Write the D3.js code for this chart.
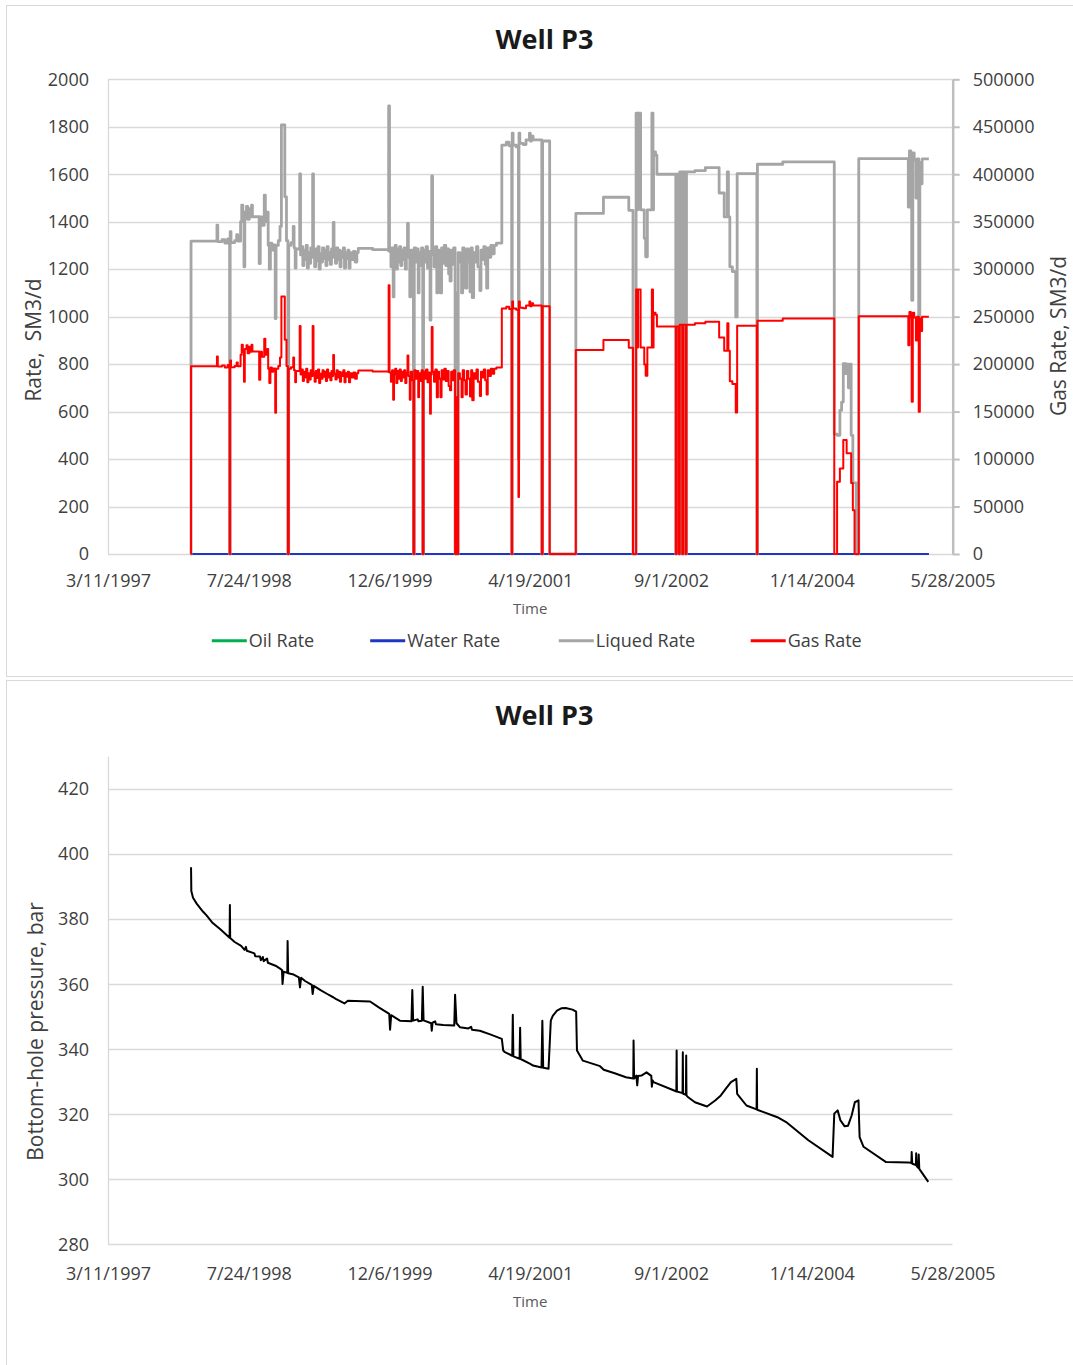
<!DOCTYPE html>
<html>
<head>
<meta charset="utf-8">
<script src="https://cdn.jsdelivr.net/npm/d3@7"></script>
<style>
  body { margin: 0; background: #fff; }
  svg { display: block; font-family: 'Open Sans', sans-serif; }
</style>
</head>
<body>
<svg id="chart" width="1073" height="1365"></svg>
<script>
// days are Excel serial numbers (35500 = 3/11/1997)
const dateTicks = [35500, 36000, 36500, 37000, 37500, 38000, 38500];
const rateTicks = [0, 200, 400, 600, 800, 1000, 1200, 1400, 1600, 1800, 2000];
const gasTicks = [0, 50000, 100000, 150000, 200000, 250000, 300000, 350000, 400000, 450000, 500000];
const pressureTicks = [280, 300, 320, 340, 360, 380, 400, 420];

const seriesNames = ['Oil Rate', 'Water Rate', 'Liqued Rate', 'Gas Rate'];

const oilDays = [35794, 38416];
const oilRate = [0, 0];
const waterDays = [35794, 38416];
const waterRate = [0, 0];

const rateDays = [
  35794, 35795, 35887, 35890, 35905, 35915, 35925, 35932, 35934, 35937,
  35950, 35957, 35961, 35971, 35975, 35979, 35983, 35986, 35992, 35996,
  36002, 36006, 36010, 36013, 36037, 36041, 36047, 36055, 36059, 36065,
  36069, 36073, 36077, 36082, 36087, 36094, 36097, 36105, 36111, 36116,
  36128, 36134, 36139, 36142, 36150, 36158, 36161, 36165, 36168, 36181,
  36184, 36188, 36192, 36196, 36200, 36204, 36208, 36212, 36216, 36220,
  36224, 36227, 36230, 36234, 36238, 36242, 36246, 36250, 36254, 36258,
  36262, 36266, 36270, 36274, 36278, 36282, 36286, 36290, 36294, 36298,
  36300, 36303, 36308, 36312, 36316, 36320, 36324, 36328, 36332, 36336,
  36340, 36344, 36348, 36352, 36356, 36360, 36366, 36372, 36378, 36384,
  36389, 36440, 36496, 36497, 36500, 36505, 36509, 36513, 36516, 36520,
  36524, 36528, 36532, 36536, 36540, 36544, 36548, 36552, 36556, 36560,
  36564, 36567, 36572, 36575, 36580, 36585, 36588, 36593, 36597, 36602,
  36605, 36610, 36614, 36618, 36621, 36626, 36630, 36635, 36640, 36644,
  36647, 36650, 36653, 36658, 36663, 36668, 36672, 36676, 36681, 36685,
  36690, 36695, 36700, 36705, 36710, 36715, 36719, 36724, 36728, 36733,
  36737, 36740, 36744, 36750, 36756, 36760, 36765, 36770, 36775, 36780,
  36786, 36790, 36794, 36799, 36804, 36809, 36814, 36821, 36825, 36830,
  36835, 36840, 36845, 36849, 36854, 36860, 36866, 36872, 36880, 36899,
  36915, 36925, 36934, 36936, 36939, 36950, 36958, 36960, 36963, 36975,
  36985, 36997, 37000, 37005, 37010, 37041, 37044, 37069, 37162, 37260,
  37350, 37365, 37376, 37380, 37383, 37392, 37405, 37410, 37416, 37432,
  37436, 37438, 37445, 37450, 37517, 37520, 37528, 37531, 37540, 37543,
  37552, 37555, 37585, 37622, 37671, 37689, 37700, 37704, 37709, 37718,
  37730, 37735, 37805, 37807, 37897, 38080, 38090, 38100, 38106, 38112,
  38120, 38124, 38130, 38136, 38140, 38146, 38152, 38158, 38167, 38343,
  38347, 38352, 38355, 38359, 38364, 38370, 38374, 38380, 38384, 38388,
  38392, 38416
];

const liquidRate = [
  0, 1318, 1386, 1316, 1324, 1310, 1328, 0, 1358, 1312,
  1320, 1345, 1318, 1400, 1470, 1420, 1210, 1440, 1465, 1410,
  1455, 1420, 1470, 1421, 1224, 1420, 1385, 1512, 1400, 1440,
  1300, 1200, 1310, 1280, 1302, 992, 1300, 1320, 1380, 1808,
  1505, 1320, 0, 1300, 1312, 1380, 1290, 1205, 1285, 1601,
  1260, 1295, 1215, 1280, 1240, 1300, 1205, 1270, 1225, 1290,
  1250, 1601, 1270, 1210, 1285, 1235, 1295, 1200, 1265, 1230,
  1290, 1245, 1280, 1215, 1295, 1240, 1270, 1220, 1285, 1250,
  1397, 1265, 1225, 1290, 1240, 1280, 1210, 1275, 1250, 1290,
  1205, 1270, 1245, 1280, 1205, 1270, 1240, 1275, 1230, 1270,
  1288, 1282, 1278, 1888, 1275, 1210, 1290, 1083, 1260, 1300,
  1200, 1285, 1230, 1295, 1215, 1280, 1240, 1290, 1200, 1270,
  1393, 1250, 1083, 1280, 1220, 0, 1290, 1230, 1285, 1100,
  1270, 1215, 1290, 0, 1280, 1230, 1295, 1205, 1275, 985,
  1260, 1593, 1280, 1210, 1295, 1100, 1280, 1230, 1100, 1290,
  1225, 1300, 1215, 1285, 1180, 1150, 1280, 1220, 1290, 0,
  1100, 0, 1270, 1230, 1100, 1290, 1220, 1120, 1285, 1230,
  1105, 1290, 1080, 1270, 1230, 1295, 1210, 1110, 1280, 1240,
  1295, 1220, 1120, 1290, 1250, 1300, 1265, 1300, 1310, 1723,
  1735, 1720, 0, 1773, 1723, 1715, 400, 1773, 1730, 1725,
  1745, 1773, 1740, 1760, 1745, 0, 1740, 0, 1435, 1503,
  1448, 0, 1857, 1450, 1857, 1450, 1330, 1252, 1450, 1857,
  1450, 1694, 1680, 1600, 0, 1600, 0, 1610, 0, 1610,
  0, 1610, 1615, 1628, 1521, 1420, 1610, 1420, 1210, 1190,
  999, 1603, 0, 1642, 1652, 505, 500, 605, 640, 802,
  760, 800, 700, 800, 500, 300, 300, 0, 1666, 1462,
  1698, 1660, 1069, 1690, 1660, 1500, 1665, 1000, 1650, 1560,
  1665, 1665
];

const gasRate = [
  0, 197700, 208000, 197400, 198600, 196500, 199200, 0, 203700, 196800,
  198000, 201800, 197700, 210000, 220500, 213000, 181500, 216000, 219800, 211500,
  218300, 213000, 220500, 213200, 183600, 213000, 207800, 226800, 210000, 216000,
  195000, 180000, 196500, 192000, 195300, 148800, 195000, 198000, 207000, 271200,
  225800, 198000, 0, 195000, 196800, 207000, 193500, 180800, 192800, 240200,
  189000, 194300, 182300, 192000, 186000, 195000, 180800, 190500, 183800, 193500,
  187500, 240200, 190500, 181500, 192800, 185300, 194300, 180000, 189800, 184500,
  193500, 186800, 192000, 182300, 194300, 186000, 190500, 183000, 192800, 187500,
  209600, 189800, 183800, 193500, 186000, 192000, 181500, 191300, 187500, 193500,
  180800, 190500, 186800, 192000, 180800, 190500, 186000, 191300, 184500, 190500,
  193200, 192300, 191700, 283200, 191300, 181500, 193500, 162500, 189000, 195000,
  180000, 192800, 184500, 194300, 182300, 192000, 186000, 193500, 180000, 190500,
  209000, 187500, 162500, 192000, 183000, 0, 193500, 184500, 192800, 165000,
  190500, 182300, 193500, 0, 192000, 184500, 194300, 180800, 191300, 147800,
  189000, 239000, 192000, 181500, 194300, 165000, 192000, 184500, 165000, 193500,
  183800, 195000, 182300, 192800, 177000, 172500, 192000, 183000, 193500, 0,
  165000, 0, 190500, 184500, 165000, 193500, 183000, 168000, 192800, 184500,
  165800, 193500, 162000, 190500, 184500, 194300, 181500, 166500, 192000, 186000,
  194300, 183000, 168000, 193500, 187500, 195000, 189800, 195000, 196500, 258500,
  260300, 258000, 0, 266000, 258500, 257300, 60000, 266000, 259500, 258800,
  261800, 266000, 261000, 264000, 261800, 0, 261000, 0, 215000, 225300,
  217200, 0, 278500, 217500, 278500, 217500, 199500, 187800, 217500, 278500,
  217500, 254100, 252000, 239500, 0, 239500, 0, 241500, 0, 241500,
  0, 241500, 243000, 244500, 228000, 214000, 243000, 214000, 182000, 179000,
  149000, 240500, 0, 245600, 248000, 0, 76000, 90000, 90000, 120000,
  120000, 106000, 106000, 106000, 74700, 46000, 0, 0, 250500, 220000,
  255000, 249000, 160300, 254000, 249000, 225000, 250000, 149800, 248000, 235000,
  250000, 250000
];

const pressureDays = [
  35795, 35796, 35802, 35815, 35826, 35838, 35850, 35870, 35899, 35932,
  35933, 35934, 35950, 35973, 35985, 35990, 35993, 36020, 36023, 36040,
  36043, 36050, 36053, 36065, 36068, 36095, 36110, 36118, 36120, 36124,
  36137, 36138, 36140, 36156, 36178, 36182, 36186, 36200, 36224, 36227,
  36231, 36255, 36279, 36300, 36309, 36340, 36352, 36431, 36462, 36499,
  36502, 36506, 36537, 36578, 36581, 36584, 36600, 36603, 36615, 36618,
  36621, 36648, 36650, 36653, 36662, 36665, 36691, 36730, 36733, 36738,
  36750, 36780, 36790, 36793, 36821, 36860, 36899, 36904, 36910, 36936,
  36938, 36940, 36962, 36964, 36966, 37000, 37010, 37040, 37043, 37046,
  37065, 37073, 37080, 37095, 37110, 37126, 37150, 37163, 37166, 37187,
  37248, 37261, 37300, 37340, 37366, 37367, 37369, 37377, 37380, 37383,
  37395, 37413, 37430, 37432, 37435, 37438, 37511, 37519, 37520, 37521,
  37541, 37542, 37543, 37553, 37554, 37555, 37560, 37585, 37628, 37658,
  37677, 37695, 37713, 37732, 37735, 37768, 37804, 37805, 37806, 37878,
  37909, 37988, 38074, 38080, 38092, 38102, 38117, 38129, 38142, 38153,
  38166, 38170, 38184, 38264, 38343, 38354, 38355, 38357, 38370, 38371,
  38373, 38379, 38380, 38382, 38414
];

const bottomHolePressure = [
  396.0, 388.7, 386.6, 384.8, 383.6, 382.3, 381.2, 379.0, 376.9, 374.3,
  384.4, 374.2, 373.0, 371.8, 370.6, 371.5, 370.3, 369.5, 368.6, 368.5,
  367.4, 368.4, 367.1, 367.9, 366.6, 365.7, 364.9, 364.4, 360.1, 363.9,
  363.5, 373.3, 363.4, 363.1, 362.1, 359.0, 362.0, 361.0, 359.8, 357.0,
  359.5, 358.2, 357.0, 356.0, 355.5, 354.1, 354.9, 354.7, 352.9, 350.9,
  346.0, 350.5, 348.8, 348.6, 358.2, 348.8, 349.2, 348.6, 348.8, 359.2,
  348.9, 348.0, 345.7, 348.2, 348.6, 347.7, 347.5, 347.3, 356.8, 348.0,
  346.8, 346.4, 346.9, 346.0, 345.7, 344.5, 343.2, 339.6, 339.1, 338.0,
  350.6, 337.8, 337.1, 346.6, 337.0, 335.5, 335.0, 334.4, 348.8, 334.3,
  334.0, 348.8, 350.3, 351.9, 352.6, 352.7, 352.2, 351.6, 339.6, 336.5,
  334.8, 333.7, 332.6, 331.4, 331.0, 342.7, 331.0, 331.9, 328.9, 331.8,
  331.9, 332.9, 331.8, 328.5, 330.4, 329.9, 327.3, 327.0, 339.6, 327.0,
  326.5, 339.1, 326.3, 326.0, 338.1, 325.8, 325.3, 323.7, 322.4, 324.3,
  325.8, 327.9, 329.9, 330.9, 326.3, 322.7, 321.5, 334.0, 321.4, 319.1,
  317.6, 312.0, 306.9, 320.2, 321.2, 318.1, 316.3, 316.5, 319.7, 323.7,
  324.3, 313.0, 310.0, 305.3, 305.2, 305.0, 308.4, 304.8, 304.4, 308.0,
  304.0, 303.5, 307.6, 303.2, 299.2
];

const textColor = '#404040';
const gridColor = '#d9d9d9';
const colors = {
  'Oil Rate': '#00b050',
  'Water Rate': '#1f35c4',
  'Liqued Rate': '#a5a5a5',
  'Gas Rate': '#ff0000',
};

const toDate = (serial) => new Date(Date.UTC(1899, 11, 30) + serial * 864e5);
const fmtDate = d3.utcFormat('%-m/%-d/%Y');
const fmtNum = d3.format('d');

const plotLeft = 108;
const plotRight = 952.5;

const svg = d3.select('#chart');

// panel frames
svg.append('rect')
  .attr('x', 6.5).attr('y', 5.5)
  .attr('width', 1080).attr('height', 671)
  .attr('fill', '#fff').attr('stroke', gridColor);
svg.append('rect')
  .attr('x', 6.5).attr('y', 680.5)
  .attr('width', 1080).attr('height', 700)
  .attr('fill', '#fff').attr('stroke', gridColor);

const x = d3.scaleUtc()
  .domain([toDate(35500), toDate(38500)])
  .range([plotLeft, plotRight]);

function drawTimeAxis(g, yPos, pad) {
  const axis = g.append('g')
    .attr('transform', 'translate(0,' + yPos + ')')
    .call(d3.axisBottom(x)
      .tickValues(dateTicks.map(toDate))
      .tickFormat(fmtDate)
      .tickSize(0)
      .tickPadding(pad));
  axis.select('.domain').remove();
  axis.selectAll('text')
    .attr('fill', textColor)
    .style('font-size', '18px')
    .style('font-family', "'Open Sans', sans-serif");
}

function drawGrid(g, scale, ticks) {
  g.append('g')
    .selectAll('line')
    .data(ticks)
    .enter()
    .append('line')
    .attr('x1', plotLeft)
    .attr('x2', plotRight)
    .attr('y1', (d) => Math.round(scale(d)) + 0.5)
    .attr('y2', (d) => Math.round(scale(d)) + 0.5)
    .attr('stroke', gridColor)
    .attr('stroke-width', 1.3);
}

function drawLeftAxis(g, scale, ticks) {
  const axis = g.append('g')
    .attr('transform', 'translate(' + plotLeft + ',0)')
    .call(d3.axisLeft(scale)
      .tickValues(ticks)
      .tickFormat(fmtNum)
      .tickSize(0)
      .tickPadding(19));
  axis.select('.domain').remove();
  axis.selectAll('text')
    .attr('fill', textColor)
    .style('font-size', '18px')
    .style('font-family', "'Open Sans', sans-serif");
  const r = scale.range();
  g.append('line')
    .attr('x1', plotLeft + 0.5).attr('x2', plotLeft + 0.5)
    .attr('y1', r[0]).attr('y2', r[1])
    .attr('stroke', gridColor)
    .attr('stroke-width', 1.3);
}

function title(g, text, yPos) {
  g.append('text')
    .attr('x', 544.5)
    .attr('y', yPos)
    .attr('text-anchor', 'middle')
    .attr('fill', '#1a1a1a')
    .style('font-size', '27px')
    .style('font-weight', 'bold')
    .text(text);
}

function rotatedLabel(g, text, cx, cy) {
  g.append('text')
    .attr('transform', 'translate(' + cx + ',' + cy + ') rotate(-90)')
    .attr('text-anchor', 'middle')
    .attr('dy', '0.35em')
    .attr('fill', textColor)
    .style('font-size', '21px')
    .style('white-space', 'pre')
    .text(text);
}

function timeLabel(g, yPos) {
  g.append('text')
    .attr('x', (plotLeft + plotRight) / 2)
    .attr('y', yPos)
    .attr('text-anchor', 'middle')
    .attr('fill', '#595959')
    .style('font-size', '15px')
    .text('Time');
}

// ---------- top chart: rates ----------
const rateChart = svg.append('g');
const yRate = d3.scaleLinear().domain([0, 2000]).range([554, 79.3]);
const yGas = d3.scaleLinear().domain([0, 500000]).range([554, 79.3]);

drawGrid(rateChart, yRate, rateTicks);
drawLeftAxis(rateChart, yRate, rateTicks);

const rightAxis = rateChart.append('g')
  .attr('transform', 'translate(952.7,0)')
  .call(d3.axisRight(yGas)
    .tickValues(gasTicks)
    .tickFormat(fmtNum)
    .tickSize(7)
    .tickPadding(13)
    .tickSizeOuter(0));
rightAxis.select('.domain').attr('stroke', '#bfbfbf').attr('stroke-width', 2.5);
rightAxis.selectAll('.tick line').attr('stroke', '#bfbfbf').attr('stroke-width', 2);
rightAxis.selectAll('text')
  .attr('fill', textColor)
  .style('font-size', '18px')
  .style('font-family', "'Open Sans', sans-serif");

drawTimeAxis(rateChart, 554, 20);

const stepLine = (yScale) => d3.line()
  .x((d) => x(toDate(d[0])))
  .y((d) => yScale(d[1]))
  .curve(d3.curveStepAfter);

rateChart.append('path')
  .datum(d3.zip(oilDays, oilRate))
  .attr('d', stepLine(yRate))
  .attr('fill', 'none')
  .attr('stroke', colors['Oil Rate'])
  .attr('stroke-width', 2);

rateChart.append('path')
  .datum(d3.zip(waterDays, waterRate))
  .attr('d', stepLine(yRate))
  .attr('fill', 'none')
  .attr('stroke', colors['Water Rate'])
  .attr('stroke-width', 2);

rateChart.append('path')
  .datum(d3.zip(rateDays, liquidRate))
  .attr('d', stepLine(yRate))
  .attr('fill', 'none')
  .attr('stroke', colors['Liqued Rate'])
  .attr('stroke-width', 2.8)
  .attr('stroke-linejoin', 'round');

rateChart.append('path')
  .datum(d3.zip(rateDays, gasRate))
  .attr('d', stepLine(yGas))
  .attr('fill', 'none')
  .attr('stroke', colors['Gas Rate'])
  .attr('stroke-width', 2)
  .attr('stroke-linejoin', 'round');

title(rateChart, 'Well P3', 49);
rotatedLabel(rateChart, 'Rate,  SM3/d', 34, 340);
rotatedLabel(rateChart, 'Gas Rate, SM3/d', 1059, 336);
timeLabel(rateChart, 614);

// legend
const legendX = [211.8, 370.2, 558.8, 750.7];
const legend = rateChart.append('g')
  .selectAll('g')
  .data(seriesNames)
  .enter()
  .append('g')
  .attr('transform', (d, i) => 'translate(' + legendX[i] + ',640.7)');
legend.append('line')
  .attr('x1', 0).attr('x2', 35)
  .attr('stroke', (d) => colors[d])
  .attr('stroke-width', 3);
legend.append('text')
  .attr('x', 37)
  .attr('dy', '0.35em')
  .attr('fill', textColor)
  .style('font-size', '18px')
  .text((d) => d);

// ---------- bottom chart: bottom-hole pressure ----------
const pressureChart = svg.append('g');
const yPres = d3.scaleLinear().domain([280, 430]).range([1244.3, 756.7]);

drawGrid(pressureChart, yPres, pressureTicks);
drawLeftAxis(pressureChart, yPres, pressureTicks);
drawTimeAxis(pressureChart, 1244.3, 23);

pressureChart.append('path')
  .datum(d3.zip(pressureDays, bottomHolePressure))
  .attr('d', d3.line()
    .x((d) => x(toDate(d[0])))
    .y((d) => yPres(d[1])))
  .attr('fill', 'none')
  .attr('stroke', '#000')
  .attr('stroke-width', 2)
  .attr('stroke-linejoin', 'round');

title(pressureChart, 'Well P3', 725);
rotatedLabel(pressureChart, 'Bottom-hole pressure, bar', 36, 1031.5);
timeLabel(pressureChart, 1307);
</script>
</body>
</html>
